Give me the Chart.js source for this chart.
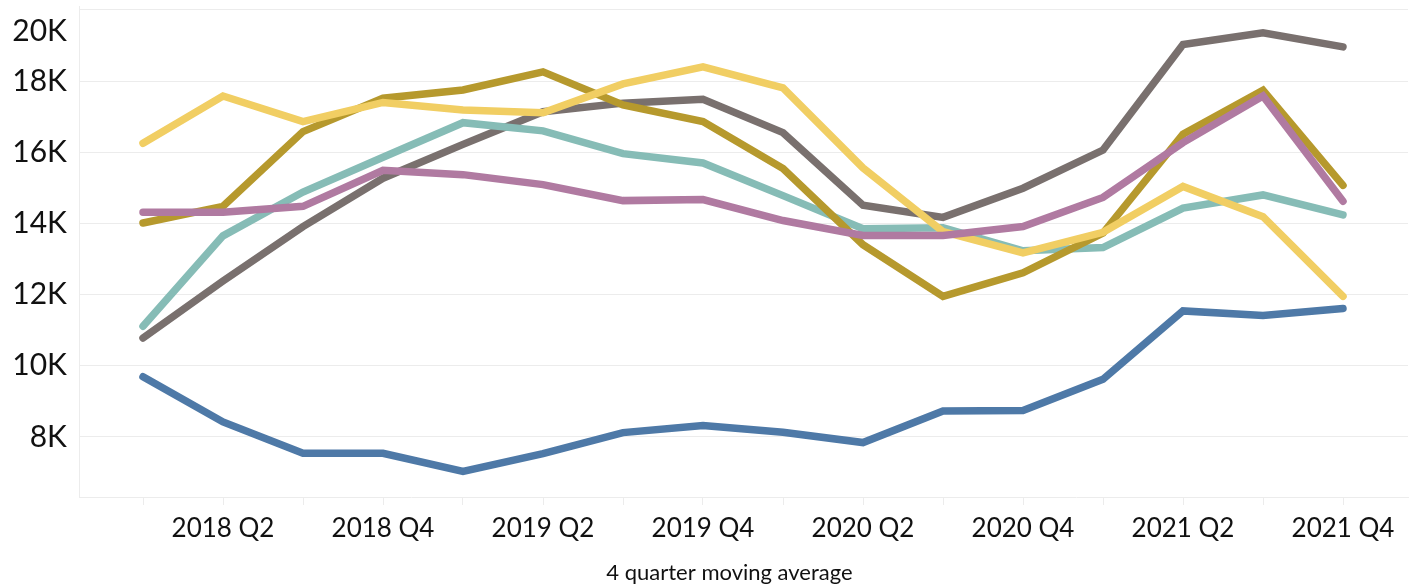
<!DOCTYPE html>
<html>
<head>
<meta charset="utf-8">
<title>4 quarter moving average</title>
<script src="https://cdn.jsdelivr.net/npm/chart.js@4/dist/chart.umd.min.js"></script>
<style>
    html, body { margin: 0; padding: 0; background: #fff; }
    #wrap { width: 1420px; height: 585px; }
</style>
</head>
<body>
<div id="wrap"><canvas id="trendChart" width="1420" height="585"></canvas></div>
<script>
// quarters on the x axis
const quarters = [
    '2018 Q1', '2018 Q2', '2018 Q3', '2018 Q4',
    '2019 Q1', '2019 Q2', '2019 Q3', '2019 Q4',
    '2020 Q1', '2020 Q2', '2020 Q3', '2020 Q4',
    '2021 Q1', '2021 Q2', '2021 Q3', '2021 Q4'
];

// 4 quarter moving averages
const blueSeries   = [9690, 8420, 7540, 7540, 7030, 7530, 8120, 8320, 8130, 7840, 8730, 8740, 9620, 11540, 11410, 11610];
const greySeries   = [10780, 12380, 13910, 15270, 16220, 17140, 17380, 17490, 16550, 14510, 14170, 14990, 16060, 19030, 19360, 18960];
const oliveSeries  = [14010, 14480, 16580, 17520, 17750, 18260, 17330, 16860, 15540, 13400, 11950, 12610, 13730, 16510, 17740, 15070];
const yellowSeries = [16250, 17580, 16860, 17400, 17190, 17110, 17920, 18400, 17810, 15560, 13770, 13170, 13750, 15040, 14190, 11950];
const tealSeries   = [11110, 13650, 14880, 15860, 16830, 16600, 15960, 15700, 14780, 13850, 13880, 13230, 13320, 14430, 14800, 14240];
const pinkSeries   = [14310, 14310, 14480, 15490, 15370, 15090, 14640, 14670, 14080, 13660, 13660, 13910, 14730, 16270, 17580, 14620];

// y axis ticks
const yTicks = [8000, 10000, 12000, 14000, 16000, 18000, 20000];

const xTitle = '4 quarter moving average';
const TEXT = '#111';
const GRID = '#ececec';

Chart.defaults.font.family = 'Lato';

function toPoints(values) {
    return values.map((v, i) => ({ x: i, y: v }));
}

function line(values, color) {
    return {
        data: toPoints(values),
        borderColor: color,
        backgroundColor: color,
        borderWidth: 7.5,
        borderCapStyle: 'round',
        borderJoinStyle: 'miter',
        pointRadius: 0,
        tension: 0,
        fill: false
    };
}

// y labels drawn by hand so the top one can stay inside the canvas,
// axis title sits a bit left of the plot centre like the original
const labelPlugin = {
    id: 'labels',
    afterDraw(chart) {
        const { ctx, chartArea, scales: { y } } = chart;
        ctx.save();
        ctx.fillStyle = TEXT;

        ctx.font = '30px Lato';
        ctx.textAlign = 'right';
        ctx.textBaseline = 'middle';
        yTicks.forEach(v => {
            const py = Math.max(y.getPixelForValue(v), chartArea.top + 25);
            ctx.fillText((v / 1000) + 'K', chartArea.left - 12, py);
        });

        ctx.font = '22px Lato';
        ctx.textAlign = 'center';
        ctx.fillText(xTitle, (chartArea.left + chartArea.right) / 2 - 14, chart.height - 12);
        ctx.restore();
    }
};

new Chart(document.getElementById('trendChart'), {
    type: 'line',
    data: {
        datasets: [
            line(pinkSeries, '#b07aa1'),
            line(yellowSeries, '#f1ce63'),
            line(oliveSeries, '#b6992d'),
            line(tealSeries, '#86bcb6'),
            line(greySeries, '#79706e'),
            line(blueSeries, '#4e79a7')
        ]
    },
    options: {
        responsive: false,
        animation: false,
        layout: { padding: { top: 6, right: 12, bottom: 0, left: 0 } },
        plugins: {
            legend: { display: false },
            tooltip: { enabled: false }
        },
        scales: {
            x: {
                type: 'linear',
                min: -0.8,
                max: 15.8125,
                afterFit: s => { s.height = 88; },
                afterBuildTicks: s => { s.ticks = quarters.map((q, i) => ({ value: i })); },
                grid: { drawOnChartArea: false, drawTicks: true, tickLength: 8, color: GRID },
                border: { display: true, color: GRID },
                ticks: {
                    autoSkip: false,
                    maxRotation: 0,
                    padding: 8,
                    color: TEXT,
                    font: { size: 26 },
                    callback: v => (v % 2 === 1 ? quarters[v] : '')
                }
            },
            y: {
                min: 6310,
                max: 20110,
                afterFit: s => { s.width = 79; },
                afterBuildTicks: s => { s.ticks = yTicks.map(v => ({ value: v })); },
                grid: { color: GRID, drawTicks: false },
                border: { display: true, color: GRID },
                ticks: { display: false }
            }
        }
    },
    plugins: [labelPlugin]
});
</script>
</body>
</html>
